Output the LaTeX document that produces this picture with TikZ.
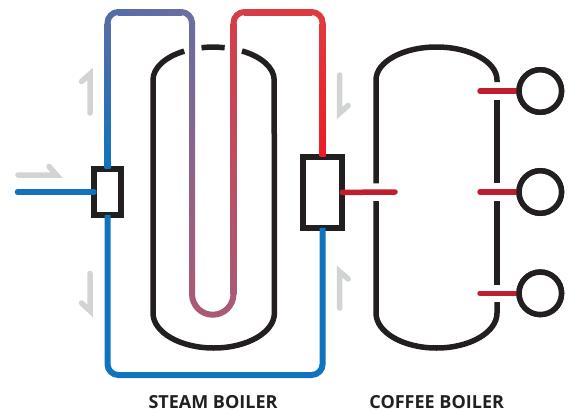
\documentclass[tikz,border=0pt]{standalone}
\usepackage{fontspec}
\setmainfont{Open Sans}
\usepackage{xcolor}
\usetikzlibrary{positioning}
\definecolor{BoilerBlack}{RGB}{35,31,32}
\definecolor{FlowGrey}{RGB}{209,211,212}
\definecolor{ColdBlue}{RGB}{16,115,190}
\definecolor{StubRed}{RGB}{190,30,45}
\definecolor{HotRed}{RGB}{237,28,36}
\definecolor{PipeBlue}{RGB}{86,108,168}
\definecolor{PipeSlate}{RGB}{106,110,160}
\definecolor{PipeMauve}{RGB}{170,90,118}
\definecolor{PipeRose}{RGB}{212,62,72}
\definecolor{PipeRed}{RGB}{224,58,62}
\tikzset{
  tank/.style={draw=BoilerBlack, line width=5.5pt},
  valve/.style={draw=BoilerBlack, line width=6pt, fill=white, inner sep=0pt,
    outer sep=0pt},
  gauge/.style={draw=BoilerBlack, line width=5.5pt, fill=white, circle,
    inner sep=0pt, outer sep=0pt, minimum size=42.5pt},
  coldpipe/.style={draw=ColdBlue, line width=6pt, rounded corners=11pt},
  hotpipe/.style={line width=6pt, rounded corners=11pt},
  stub/.style={draw=StubRed, line width=5.5pt, line cap=round},
  flow/.style={draw=FlowGrey, line width=5.5pt, line cap=round, line join=miter},
  caption/.style={font=\bfseries\fontsize{18}{22}\selectfont, text=BoilerBlack,
    anchor=base, inner sep=0pt}
}
\begin{document}
\begin{tikzpicture}[x=1pt,y=-1pt]
  \useasboundingbox (0,0) rectangle (574,410);

  % steam boiler
  \draw[tank] (242,51) arc[start angle=298,end angle=360,x radius=60.7,y radius=33]
    -- (274.4,313) arc[start angle=0,end angle=180,x radius=60.7,y radius=35]
    -- (153,80) arc[start angle=180,end angle=241,x radius=60.7,y radius=33];
  \draw[tank] (201.5,47.7) arc[start angle=259,end angle=281,x radius=60.7,y radius=33];

  % coffee boiler
  \draw[tank] (497,82) -- (497,80) arc[start angle=0,end angle=-180,x radius=60.5,y radius=33]
    -- (376,183.3);
  \draw[tank] (376,201) -- (376,313) arc[start angle=180,end angle=0,x radius=60.5,y radius=35]
    -- (497,302);
  \draw[tank] (497,285) -- (497,201);
  \draw[tank] (497,183.3) -- (497,99.5);

  \node[valve,minimum width=27pt,minimum height=46pt] (leftvalve) at (107.5,192) {};
  \node[valve,minimum width=39pt,minimum height=70.7pt] (rightvalve) at (322.6,192.4) {};

  \node[gauge] (gaugetop) at (540.3,91) {};
  \node[gauge] (gaugemid) at (540.3,192) {};
  \node[gauge] (gaugelow) at (540.3,293.3) {};

  \coordinate (inlet) at (17.5,192);
  \coordinate (stubcoffee) at (395,192);
  \coordinate (stubtop) at (480,91);
  \coordinate (stubmid) at (480,192);
  \coordinate (stublow) at (480,293.3);

  % cold side
  \draw[coldpipe,line width=5.5pt,line cap=round] (inlet) -- (leftvalve.west);
  \draw[coldpipe] (leftvalve.south) |- (322.6,375) -- (rightvalve.south);

  % hot side, one piece per leg for the colour change
  \draw[hotpipe,draw=PipeBlue] (107.5,24) |- (119,12);
  \draw[hotpipe,draw=PipeSlate] (181,12) -| (192,24);
  \draw[hotpipe,draw=PipeRose] (233.5,24) |- (245,12);
  \draw[hotpipe,draw=PipeRed] (311,12) -| (322.6,24);
  \draw[line width=6pt,draw=PipeMauve] (192,294) arc[start angle=180,end angle=0,x radius=20.75,y radius=20.75];
  \shade[bottom color=ColdBlue,top color=PipeBlue] (104.5,23) rectangle (110.5,168);
  \shade[left color=PipeBlue,right color=PipeSlate] (118,9) rectangle (182,15);
  \shade[top color=PipeSlate,bottom color=PipeMauve] (189,23) rectangle (195,294.5);
  \shade[top color=PipeRose,bottom color=PipeMauve] (230.5,23) rectangle (236.5,294.5);
  \shade[left color=PipeRose,right color=PipeRed] (244,9) rectangle (312,15);
  \shade[top color=PipeRed,bottom color=HotRed] (319.6,23) rectangle (325.6,156);

  % stubs
  \draw[stub] (rightvalve.east) -- (stubcoffee);
  \draw[stub] (stubtop) -- (gaugetop.west);
  \draw[stub] (stubmid) -- (gaugemid.west);
  \draw[stub] (stublow) -- (gaugelow.west);
  \node[gauge] at (gaugetop) {};
  \node[gauge] at (gaugemid) {};
  \node[gauge] at (gaugelow) {};

  % flow marks
  \draw[flow] (90,113) -- (90,74) -- (81.5,81.5);
  \draw[flow] (18,175) -- (56.5,175) -- (49,166.5);
  \draw[flow] (90,273.5) -- (90,310.8) -- (81.5,303);
  \draw[flow] (339.7,75) -- (339.7,113) -- (348.2,105.5);
  \draw[flow] (339.7,308) -- (339.7,271.7) -- (348.2,279);

  \node[caption] (steamlabel) at (213,408) {STEAM BOILER};
  \node[caption] (coffeelabel) at (436.7,408) {COFFEE BOILER};
\end{tikzpicture}
\end{document}
